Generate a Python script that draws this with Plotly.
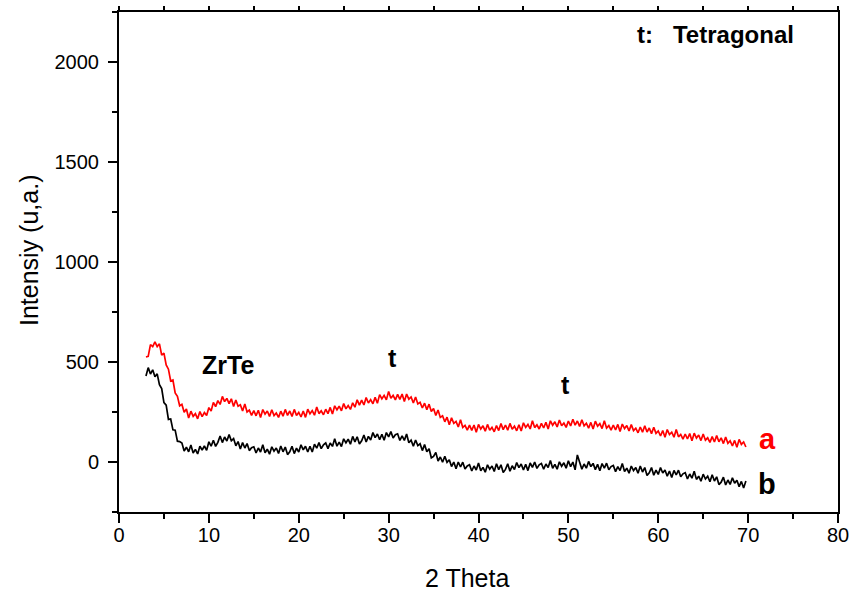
import plotly.graph_objects as go

# 2-theta sampling grid (degrees): start 3.0, step 0.25, 268 points
theta_start = 3.0
theta_step = 0.25
n_points = 268
two_theta = [round(theta_start + theta_step * i, 2) for i in range(n_points)]

# Sample a (red)
intensity_a = [
    525, 528, 587, 577, 601, 577, 591, 534, 544, 485, 464, 405, 410, 345, 328, 281,
    288, 249, 265, 220, 254, 228, 242, 216, 252, 227, 247, 233, 272, 255, 298, 277,
    307, 288, 328, 302, 318, 292, 316, 277, 310, 279, 286, 255, 290, 250, 259, 233,
    257, 231, 259, 223, 262, 239, 255, 228, 261, 232, 245, 223, 254, 229, 263, 233,
    255, 228, 263, 233, 248, 225, 255, 223, 264, 241, 257, 234, 275, 242, 256, 236,
    264, 242, 273, 240, 281, 261, 279, 256, 292, 266, 282, 263, 296, 274, 311, 284,
    309, 285, 322, 295, 312, 291, 323, 294, 337, 316, 333, 311, 353, 319, 333, 311,
    338, 313, 340, 303, 340, 314, 325, 295, 325, 290, 298, 270, 294, 262, 289, 252,
    267, 233, 260, 223, 231, 201, 224, 186, 221, 193, 203, 175, 211, 173, 183, 159,
    184, 158, 185, 149, 188, 165, 181, 154, 188, 159, 173, 151, 182, 157, 192, 162,
    185, 159, 193, 164, 179, 156, 186, 155, 196, 173, 188, 165, 206, 172, 186, 165,
    193, 170, 199, 165, 206, 184, 201, 175, 210, 181, 195, 173, 205, 180, 214, 184,
    205, 178, 211, 181, 194, 169, 198, 165, 204, 179, 192, 167, 206, 170, 182, 159,
    185, 160, 188, 152, 190, 167, 182, 155, 187, 157, 169, 146, 175, 149, 181, 150,
    170, 142, 174, 143, 155, 130, 157, 124, 162, 137, 149, 124, 163, 126, 138, 114,
    140, 115, 142, 106, 144, 120, 135, 107, 140, 109, 121, 98, 127, 100, 132, 101,
    121, 92, 125, 93, 106, 80, 108, 74, 113, 88, 100, 75,
]

# Sample b (black)
intensity_b = [
    430, 472, 440, 461, 426, 441, 387, 367, 297, 284, 213, 215, 161, 159, 104, 102,
    95, 55, 74, 51, 85, 45, 63, 40, 79, 60, 80, 58, 101, 79, 109, 78,
    98, 130, 97, 125, 105, 137, 106, 117, 81, 102, 65, 97, 70, 92, 57, 71,
    76, 45, 70, 50, 86, 46, 64, 39, 76, 54, 70, 43, 80, 51, 75, 37,
    51, 79, 42, 69, 50, 86, 61, 79, 50, 79, 50, 89, 69, 97, 67, 86,
    95, 67, 95, 78, 116, 79, 99, 77, 116, 96, 114, 89, 128, 101, 126, 90,
    106, 135, 100, 128, 110, 147, 122, 140, 111, 139, 109, 147, 126, 152, 120, 136,
    141, 108, 131, 108, 140, 96, 109, 79, 110, 82, 91, 57, 87, 51, 66, 21,
    28, 48, 5, 25, -1, 29, -2, 11, -23, 0, -34, 0, -25, -1, -35, -20,
    -14, -45, -20, -40, -5, -44, -27, -51, -14, -36, -20, -47, -9, -38, -14, -52,
    -37, -9, -46, -19, -38, -3, -28, -10, -40, -12, -43, -5, -27, 0, -32, -14,
    -7, -36, -10, -28, 8, -31, -12, -36, 1, -21, -4, -31, 6, -23, 0, -39,
    35, 2, -36, -10, -31, 3, -23, -7, -38, -12, -44, -8, -31, -6, -39, -23,
    -17, -48, -23, -43, -8, -48, -31, -56, -20, -43, -28, -56, -20, -50, -28, -67,
    -54, -28, -66, -41, -62, -28, -55, -40, -71, -45, -78, -42, -65, -41, -74, -59,
    -53, -85, -60, -81, -46, -87, -71, -96, -61, -85, -71, -99, -64, -95, -74, -113,
    -101, -76, -115, -90, -112, -79, -106, -91, -123, -97, -130, -95,
]

x_ticks = [0, 10, 20, 30, 40, 50, 60, 70, 80]
y_ticks = [0, 500, 1000, 1500, 2000]

FONT = "Liberation Sans, Arial, sans-serif"

fig = go.Figure()
fig.add_trace(go.Scatter(x=two_theta, y=intensity_a, mode="lines",
                         line=dict(color="#ff0000", width=1.7), name="a"))
fig.add_trace(go.Scatter(x=two_theta, y=intensity_b, mode="lines",
                         line=dict(color="#000000", width=1.7), name="b"))

annots = [
    dict(x=12.1, y=485, text="<b>ZrTe</b>", font=dict(size=25, color="black")),
    dict(x=30.4, y=520, text="<b>t</b>", font=dict(size=25, color="black")),
    dict(x=49.7, y=385, text="<b>t</b>", font=dict(size=25, color="black")),
    dict(x=72.1, y=117, text="<b>a</b>", font=dict(size=29, color="#ff0000")),
    dict(x=72.1, y=-110, text="<b>b</b>", font=dict(size=29, color="black")),
    dict(x=66.4, y=2140, text="<b>t:   Tetragonal</b>", font=dict(size=24, color="black")),
]
for a in annots:
    a["font"]["family"] = FONT
    fig.add_annotation(xref="x", yref="y", showarrow=False,
                       xanchor="center", yanchor="middle", **a)

# axis titles placed as paper annotations
fig.add_annotation(xref="paper", yref="paper", x=(467 - 119) / 719, y=(512 - 578) / 500,
                   xanchor="center", yanchor="middle",
                   text="2 Theta", showarrow=False,
                   font=dict(family=FONT, size=25, color="black"))
fig.add_annotation(xref="paper", yref="paper", x=(29 - 119) / 719, y=(512 - 251) / 500,
                   xanchor="center", yanchor="middle",
                   text="Intensiy (u,a.)", showarrow=False, textangle=-90,
                   font=dict(family=FONT, size=25, color="black"))

axis_common = dict(
    showline=True, linecolor="black", linewidth=2,
    ticks="outside", ticklen=9, tickwidth=1.6, tickcolor="black",
    showgrid=False, zeroline=False, automargin=False,
    tickfont=dict(family=FONT, size=20, color="black"),
)

fig.update_xaxes(
    range=[0, 80], tickvals=x_ticks, ticktext=[str(v) for v in x_ticks],
    mirror=True, ticklabelstandoff=-5,
    minor=dict(dtick=5, tick0=0, ticks="outside", ticklen=5, tickwidth=1.6, tickcolor="black"),
    **axis_common,
)
fig.update_yaxes(
    range=[-250, 2250], tickvals=y_ticks, ticktext=[str(v) for v in y_ticks],
    mirror=True, ticklabelstandoff=5,
    minor=dict(dtick=250, tick0=0, ticks="outside", ticklen=5, tickwidth=1.6, tickcolor="black"),
    **axis_common,
)

fig.update_layout(
    width=855, height=591,
    margin=dict(l=119, r=17, t=12, b=79),
    paper_bgcolor="white", plot_bgcolor="white",
    showlegend=False,
    # top ticks every 5 degrees, no labels
    xaxis2=dict(overlaying="x", side="top", anchor="y", range=[0, 80],
                tickmode="linear", tick0=0, dtick=5, ticks="outside", ticklen=5,
                tickwidth=1.6, tickcolor="black", showticklabels=False,
                showline=False, showgrid=False, zeroline=False, automargin=False),
)
fig.add_trace(go.Scatter(x=[0, 80], y=[None, None], xaxis="x2", yaxis="y",
                         mode="lines", showlegend=False, hoverinfo="skip"))

fig.write_html("out.html", config={"displayModeBar": False},
               post_script="document.body.style.margin='0px';")
